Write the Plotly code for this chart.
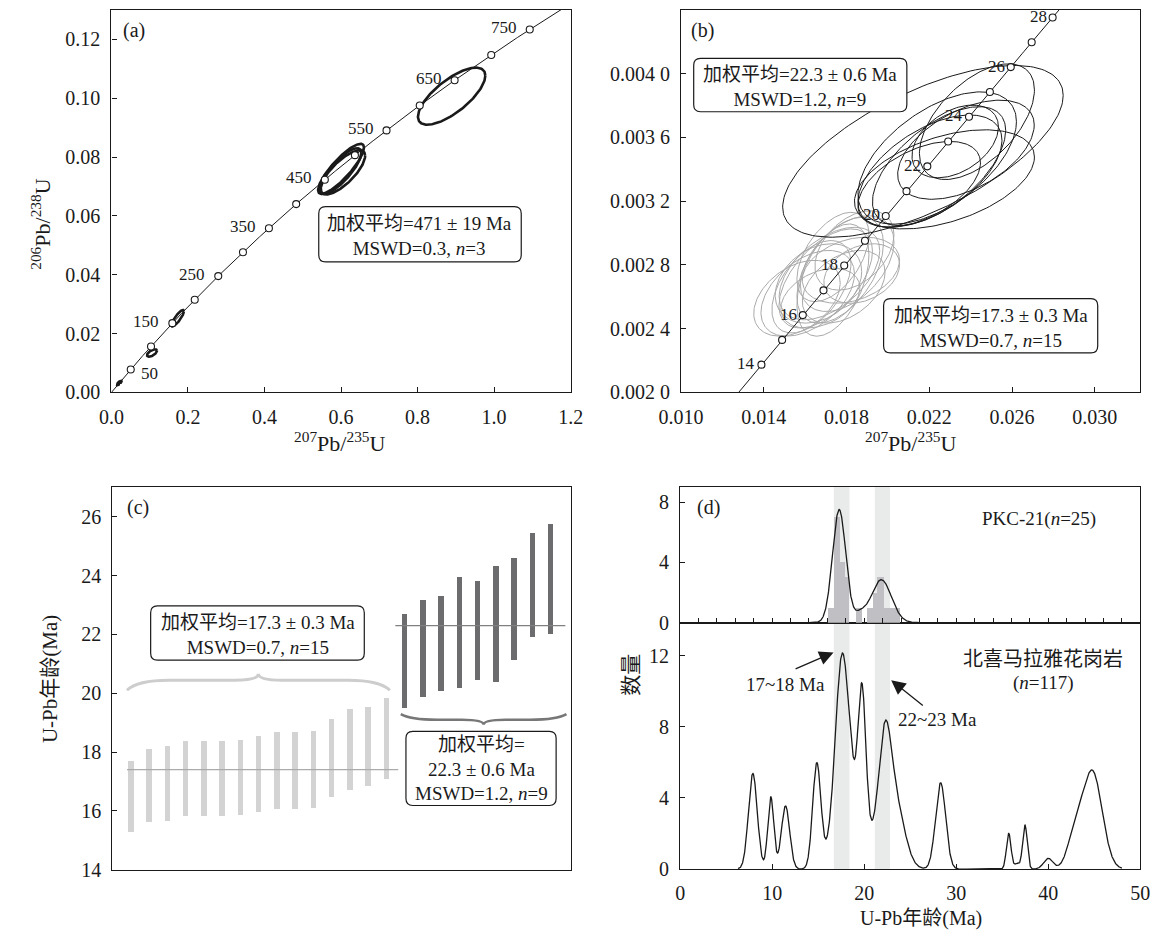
import numpy as np
import plotly.graph_objects as go

# page is 1172x949; the browser adds an 8 px body margin, so the figure is 16 px smaller
W, H = 1172, 949
M = 8
FW, FH = W - 2 * M, H - 2 * M
SERIF = "Liberation Serif, Times New Roman, Noto Sans CJK SC, serif"
INK = "#1a1a1a"

# ---------------- data ----------------
LAMBDA_238 = 1.55125e-10
LAMBDA_235 = 9.8485e-10

# (a) concordia marks and ellipses (half-widths, correlation)
a_marker_ages = [50, 100, 150, 200, 250, 300, 350, 400, 450, 500, 550, 600, 650, 700, 750]
a_label_ages = [50, 150, 250, 350, 450, 550, 650, 750]
a_ell_x = [0.106, 0.173, 0.600, 0.598, 0.605, 0.889]
a_ell_sx = [0.013, 0.0165, 0.060, 0.055, 0.058, 0.088]
a_ell_y = [0.0134, 0.0252, 0.0760, 0.0752, 0.0748, 0.1007]
a_ell_sy = [0.00125, 0.0028, 0.0085, 0.0078, 0.0075, 0.0097]
a_ell_rho = [0.6, 0.85, 0.85, 0.80, 0.75, 0.72]

# (b) concordia marks
b_marker_ages = [14, 15, 16, 17, 18, 19, 20, 21, 22, 23, 24, 25, 26, 27, 28]
b_label_ages = [14, 16, 18, 20, 22, 24, 26, 28]
# (b) ~22 Ma group (black)
b_old_x = [0.02169, 0.02430, 0.02377, 0.02247, 0.02203, 0.02273, 0.02151, 0.02325, 0.02238]
b_old_sx = [0.00678, 0.00278, 0.00330, 0.00322, 0.00348, 0.00435, 0.00296, 0.00209, 0.00383]
b_old_y = [0.003513, 0.003699, 0.003523, 0.003420, 0.003389, 0.003337, 0.003306, 0.003575, 0.003471]
b_old_sy = [0.000539, 0.000363, 0.000311, 0.000373, 0.000352, 0.000311, 0.000269, 0.000228, 0.000415]
b_old_rho = [0.65, 0.55, 0.50, 0.60, 0.55, 0.45, 0.50, 0.40, 0.55]
# (b) ~17 Ma group (grey)
b_young_x = [0.01560, 0.01612, 0.01630, 0.01664, 0.01699, 0.01717, 0.01734, 0.01769,
             0.01803, 0.01838, 0.01821, 0.01673, 0.01873, 0.01786, 0.01734]
b_young_sx = [0.00209, 0.00226, 0.00191, 0.00209, 0.00226, 0.00243, 0.00174, 0.00209,
              0.00226, 0.00191, 0.00235, 0.00191, 0.00183, 0.00200, 0.00174]
b_young_y = [0.002591, 0.002622, 0.002663, 0.002684, 0.002715, 0.002746, 0.002705, 0.002767,
             0.002808, 0.002891, 0.002767, 0.002591, 0.002746, 0.002663, 0.002850]
b_young_sy = [0.000238, 0.000269, 0.000290, 0.000249, 0.000311, 0.000290, 0.000352, 0.000332,
              0.000300, 0.000249, 0.000207, 0.000187, 0.000187, 0.000228, 0.000280]
b_young_rho = [0.40, 0.45, 0.50, 0.30, 0.55, 0.50, 0.45, 0.50, 0.45, 0.40, 0.30, 0.35, 0.30, 0.40, 0.50]

# (c) individual ages (error bar top / bottom, Ma)
c_young_top = [17.70, 18.09, 18.19, 18.37, 18.37, 18.37, 18.39, 18.53, 18.66, 18.68, 18.70, 19.10, 19.46, 19.52, 19.83]
c_young_bot = [15.26, 15.60, 15.66, 15.82, 15.82, 15.82, 15.84, 15.94, 16.04, 16.07, 16.09, 16.45, 16.69, 16.83, 17.09]
c_old_top = [22.68, 23.16, 23.29, 23.95, 23.79, 24.31, 24.60, 25.44, 25.73]
c_old_bot = [19.49, 19.87, 20.05, 20.18, 20.44, 20.38, 21.11, 21.89, 21.99]
c_young_mean = 17.4
c_old_mean = 22.3
c_young_brace = [20.10, 20.44, 20.66]   # end, body, tip
c_old_brace = [19.29, 19.10, 18.93]

# (d) highlight bands, histogram, probability curves
d_band_lo = [16.7, 21.15]
d_band_hi = [18.4, 22.8]
d_hist_lo = [16.10, 16.75, 17.40, 17.90, 19.15, 20.30, 21.00, 21.45, 22.15, 22.75, 23.30]
d_hist_hi = [16.75, 17.40, 17.90, 18.35, 19.75, 21.00, 21.45, 22.15, 22.75, 23.30, 23.90]
d_hist_n = [1, 7, 4, 3, 1, 1, 2, 3, 1, 1, 1]
d_top_mu = [17.28, 19.5, 21.85]
d_top_sig = [0.72, 0.6, 1.1]
d_top_amp = [7.5, 0.5, 2.85]
d_bot_mu = [7.9, 9.85, 11.45, 14.85, 16.1, 17.6, 18.7, 19.75, 20.8, 22.2, 23.4, 28.3, 35.7, 36.6, 37.46, 40.0, 42.9, 44.8]
d_bot_sig = [0.48, 0.33, 0.45, 0.45, 0.5, 0.75, 0.5, 0.45, 0.5, 0.7, 1.0, 0.55, 0.25, 0.3, 0.25, 0.5, 0.8, 1.05]
d_bot_amp = [5.37, 4.05, 3.55, 5.95, 0.45, 11.95, 2.0, 9.9, 1.1, 6.5, 3.5, 4.85, 2.0, 0.3, 2.48, 0.6, 1.8, 5.45]


# ---------------- helpers ----------------
def concordia(t_ma):
    t = np.asarray(t_ma, dtype=float) * 1e6
    return np.exp(LAMBDA_235 * t) - 1, np.exp(LAMBDA_238 * t) - 1


def ellipse(x, sx, y, sy, rho, n=181):
    th = np.linspace(0, 2 * np.pi, n)
    X = x + sx * np.cos(th)
    Y = y + sy * (rho * np.cos(th) + np.sqrt(1 - rho ** 2) * np.sin(th))
    return X, Y


def mixture(xs, mu, sig, amp):
    out = np.zeros_like(xs)
    for m, s, a in zip(mu, sig, amp):
        out += a * np.exp(-0.5 * ((xs - m) / s) ** 2)
    return out


def PX(px):
    return (px - M) / FW


def PY(py):
    return 1 - (py - M) / FH


def ann(px, py, text, size=19, **kw):
    d = dict(x=PX(px), y=PY(py), xref="paper", yref="paper", text=text, showarrow=False,
             font=dict(family=SERIF, size=size, color=INK), xanchor="center",
             yanchor="middle", align="center")
    d.update(kw)
    return d


def rbox(x0, y0, x1, y1, r=7):
    X0, Y0, X1, Y1 = PX(x0), PY(y0), PX(x1), PY(y1)
    rx, ry = r / FW, r / FH
    path = (f"M {X0+rx},{Y0} L {X1-rx},{Y0} Q {X1},{Y0} {X1},{Y0-ry} "
            f"L {X1},{Y1+ry} Q {X1},{Y1} {X1-rx},{Y1} L {X0+rx},{Y1} "
            f"Q {X0},{Y1} {X0},{Y1+ry} L {X0},{Y0-ry} Q {X0},{Y0} {X0+rx},{Y0} Z")
    return dict(type="path", path=path, xref="paper", yref="paper",
                line=dict(color=INK, width=1.2), fillcolor="white", layer="above")


def brace(x0, x1, levels, a, c, color, width):
    ye, yb, yt = levels
    xm = 0.5 * (x0 + x1)
    path = (f"M {x0},{ye} Q {x0 + 0.25*a},{yb} {x0 + a},{yb} L {xm - c},{yb} "
            f"Q {xm},{yb} {xm},{yt} Q {xm},{yb} {xm + c},{yb} L {x1 - a},{yb} "
            f"Q {x1 - 0.25*a},{yb} {x1},{ye}")
    return dict(type="path", path=path, xref="x3", yref="y3",
                line=dict(color=color, width=width), layer="above")


fig = go.Figure()

# ---------------- (a) ----------------
for i in range(len(a_ell_x)):
    X, Y = ellipse(a_ell_x[i], a_ell_sx[i], a_ell_y[i], a_ell_sy[i], a_ell_rho[i])
    fig.add_trace(go.Scatter(x=X, y=Y, mode="lines", line=dict(color=INK, width=2.6),
                             xaxis="x", yaxis="y", hoverinfo="skip"))
# the young zircons show as a small dark blob near the origin
for grp in [(b_old_x, b_old_sx, b_old_y, b_old_sy, b_old_rho),
            (b_young_x, b_young_sx, b_young_y, b_young_sy, b_young_rho)]:
    for i in range(len(grp[0])):
        X, Y = ellipse(grp[0][i], grp[1][i], grp[2][i], grp[3][i], grp[4][i])
        fig.add_trace(go.Scatter(x=X, y=Y, mode="lines", line=dict(color=INK, width=1.6),
                                 xaxis="x", yaxis="y", hoverinfo="skip"))
cx, cy = concordia(np.linspace(0, 820, 500))
fig.add_trace(go.Scatter(x=cx, y=cy, mode="lines", line=dict(color=INK, width=1),
                         xaxis="x", yaxis="y", hoverinfo="skip"))
mx, my = concordia(a_marker_ages)
fig.add_trace(go.Scatter(x=mx, y=my, mode="markers",
                         marker=dict(symbol="circle", size=7, color="white",
                                     line=dict(color=INK, width=1.1)),
                         xaxis="x", yaxis="y", hoverinfo="skip"))

# ---------------- (b) ----------------
for i in range(len(b_young_x)):
    X, Y = ellipse(b_young_x[i], b_young_sx[i], b_young_y[i], b_young_sy[i], b_young_rho[i])
    fig.add_trace(go.Scatter(x=X, y=Y, mode="lines", line=dict(color="#a9a9a9", width=1),
                             xaxis="x2", yaxis="y2", hoverinfo="skip"))
for i in range(len(b_old_x)):
    X, Y = ellipse(b_old_x[i], b_old_sx[i], b_old_y[i], b_old_sy[i], b_old_rho[i])
    fig.add_trace(go.Scatter(x=X, y=Y, mode="lines", line=dict(color=INK, width=1),
                             xaxis="x2", yaxis="y2", hoverinfo="skip"))
cx, cy = concordia(np.linspace(10, 32, 300))
fig.add_trace(go.Scatter(x=cx, y=cy, mode="lines", line=dict(color=INK, width=1),
                         xaxis="x2", yaxis="y2", hoverinfo="skip"))
mx, my = concordia(b_marker_ages)
fig.add_trace(go.Scatter(x=mx, y=my, mode="markers",
                         marker=dict(symbol="circle", size=7, color="white",
                                     line=dict(color=INK, width=1.1)),
                         xaxis="x2", yaxis="y2", hoverinfo="skip"))

# ---------------- (c) ----------------
idx_y = np.arange(1, len(c_young_top) + 1)
idx_o = np.arange(len(c_young_top) + 1, len(c_young_top) + len(c_old_top) + 1)
yt, yb = np.array(c_young_top), np.array(c_young_bot)
ot, ob = np.array(c_old_top), np.array(c_old_bot)
fig.add_trace(go.Bar(x=idx_y, y=yt - yb, base=yb, width=0.3,
                     marker=dict(color="#d3d3d3", line=dict(width=0)),
                     xaxis="x3", yaxis="y3", hoverinfo="skip"))
fig.add_trace(go.Bar(x=idx_o, y=ot - ob, base=ob, width=0.3,
                     marker=dict(color="#6c6c6f", line=dict(width=0)),
                     xaxis="x3", yaxis="y3", hoverinfo="skip"))
fig.add_trace(go.Scatter(x=[idx_y[0] - 0.24, idx_y[-1] + 0.63], y=[c_young_mean] * 2,
                         mode="lines", line=dict(color="#ababab", width=1.3),
                         xaxis="x3", yaxis="y3", hoverinfo="skip"))
fig.add_trace(go.Scatter(x=[idx_o[0] - 0.53, idx_o[-1] + 0.79], y=[c_old_mean] * 2,
                         mode="lines", line=dict(color="#808080", width=1.3),
                         xaxis="x3", yaxis="y3", hoverinfo="skip"))

# ---------------- (d) ----------------
lo, hi = np.array(d_hist_lo), np.array(d_hist_hi)
fig.add_trace(go.Bar(x=(lo + hi) / 2, y=d_hist_n, width=hi - lo,
                     marker=dict(color="#c0c0c4", line=dict(width=0)),
                     xaxis="x5", yaxis="y5", hoverinfo="skip"))
xt = np.linspace(14, 26.5, 500)
fig.add_trace(go.Scatter(x=xt, y=mixture(xt, d_top_mu, d_top_sig, d_top_amp), mode="lines",
                         line=dict(color=INK, width=1.3), xaxis="x5", yaxis="y5",
                         hoverinfo="skip"))
xb = np.linspace(6.3, 48.0, 1500)
fig.add_trace(go.Scatter(x=xb, y=mixture(xb, d_bot_mu, d_bot_sig, d_bot_amp), mode="lines",
                         line=dict(color=INK, width=1.3), xaxis="x4", yaxis="y4",
                         hoverinfo="skip"))


# ---------------- layout ----------------
def xdom(p0, p1):
    return [PX(p0), PX(p1)]


def ydom(top, bot):
    return [PY(bot), PY(top)]


ax = dict(showline=True, linecolor=INK, linewidth=1.2, mirror=True, ticks="inside",
          ticklen=5, tickcolor=INK, showgrid=False, zeroline=False,
          tickfont=dict(family=SERIF, size=20, color=INK), ticklabelstandoff=6)

shapes = []
for l, h in zip(d_band_lo, d_band_hi):
    shapes.append(dict(type="rect", xref="x4", yref="paper", x0=l, x1=h,
                       y0=PY(879.3), y1=PY(492.7), fillcolor="#e8ebe9",
                       line=dict(width=0), layer="below"))
shapes += [rbox(305, 209, 514, 265), rbox(692, 59, 912, 113), rbox(888, 302, 1109, 357),
           rbox(131.5, 613, 352, 668), rbox(395, 740, 550, 815)]
shapes.append(brace(idx_y[0] - 0.24, idx_y[-1] + 0.17, c_young_brace, 2.3, 1.3, "#cdcdcd", 3))
shapes.append(brace(idx_o[0] - 0.23, idx_o[-1] + 0.85, c_old_brace, 2.0, 1.2, "#777777", 2.5))

annotations = []
lx, ly = concordia(a_label_ages)
for age, x, y in zip(a_label_ages, lx, ly):
    if age == 50:
        annotations.append(dict(x=x, y=y, xref="x", yref="y", text=str(age), showarrow=False,
                                xanchor="left", yanchor="middle", xshift=8, yshift=-4,
                                font=dict(family=SERIF, size=17, color=INK)))
    else:
        annotations.append(dict(x=x, y=y, xref="x", yref="y", text=str(age), showarrow=False,
                                xanchor="right", yanchor="middle", xshift=-11, yshift=2,
                                font=dict(family=SERIF, size=17, color=INK)))
lx, ly = concordia(b_label_ages)
for age, x, y in zip(b_label_ages, lx, ly):
    annotations.append(dict(x=x, y=y, xref="x2", yref="y2", text=str(age), showarrow=False,
                            xanchor="right", yanchor="middle", xshift=-4, yshift=1,
                            font=dict(family=SERIF, size=17, color=INK)))

annotations += [
    ann(114, 31, "(a)", 20), ann(701, 31, "(b)", 20), ann(118, 513, "(c)", 20),
    ann(707, 513, "(d)", 20),
    ann(18, 226.7, "<sup>206</sup>Pb/<sup>238</sup>U", 22, textangle=-90),
    ann(327, 446.7, "<sup>207</sup>Pb/<sup>235</sup>U", 22),
    ann(916, 446.7, "<sup>207</sup>Pb/<sup>235</sup>U", 22),
    ann(27, 686.7, "U-Pb年龄(Ma)", 21, textangle=-90),
    ann(627, 683, "数量", 21, textangle=-90),
    ann(927, 929, "U-Pb年龄(Ma)", 20),
    ann(409.5, 238.5, "加权平均=471 ± 19 Ma<br>MSWD=0.3, <i>n</i>=3", 19),
    ann(802, 87.5, "加权平均=22.3 ± 0.6 Ma<br>MSWD=1.2, <i>n</i>=9", 19),
    ann(998.5, 331.5, "加权平均=17.3 ± 0.3 Ma<br>MSWD=0.7, <i>n</i>=15", 19),
    ann(241.8, 642.5, "加权平均=17.3 ± 0.3 Ma<br>MSWD=0.7, <i>n</i>=15", 19),
    ann(472.5, 778, "加权平均=<br>22.3 ± 0.6 Ma<br>MSWD=1.2, <i>n</i>=9", 19),
    ann(1048, 525, "PKC-21(<i>n</i>=25)", 19),
    ann(1053, 667, "北喜马拉雅花岗岩", 20),
    ann(1053, 691, "(<i>n</i>=117)", 19),
    ann(787, 693, "17~18 Ma", 19),
    ann(943.5, 728, "22~23 Ma", 19),
]
# arrows in (d)
for (hx, hy, tx, ty) in [(16.67, 12.18, 12.38, 11.22), (22.93, 10.61, 26.53, 9.13)]:
    annotations.append(dict(x=hx, y=hy, ax=tx, ay=ty, xref="x4", yref="y4", axref="x4",
                            ayref="y4", text="", showarrow=True, arrowhead=2, arrowsize=2.2,
                            arrowwidth=1.3, arrowcolor=INK, standoff=0))

fig.update_layout(
    width=FW, height=FH, autosize=False, margin=dict(l=0, r=0, t=0, b=0),
    paper_bgcolor="white", plot_bgcolor="rgba(0,0,0,0)", showlegend=False,
    barmode="overlay", bargap=0,
    font=dict(family=SERIF, color=INK),
    xaxis=dict(ax, domain=xdom(91, 565), range=[0, 1.2], tickvals=[0, 0.2, 0.4, 0.6, 0.8, 1.0, 1.2],
               tickformat=".1f", anchor="y"),
    yaxis=dict(ax, domain=ydom(10, 397), range=[0, 0.13],
               tickvals=[0, 0.02, 0.04, 0.06, 0.08, 0.10, 0.12], tickformat=".2f", anchor="x"),
    xaxis2=dict(ax, domain=xdom(679, 1153), range=[0.010, 0.0322],
                tickvals=[0.010, 0.014, 0.018, 0.022, 0.026, 0.030], tickformat=".3f", anchor="y2"),
    yaxis2=dict(ax, domain=ydom(10, 397), range=[0.0020, 0.0044],
                tickvals=[0.0020, 0.0024, 0.0028, 0.0032, 0.0036, 0.0040, 0.0044],
                ticktext=["0.002 0", "0.002 4", "0.002 8", "0.003 2", "0.003 6", "0.004 0", "0.004 4"],
                anchor="x2"),
    xaxis3=dict(ax, domain=xdom(92, 565), range=[-0.04, 25.08], ticks="",
                showticklabels=False, anchor="y3"),
    yaxis3=dict(ax, domain=ydom(493, 880), range=[14, 27], tickvals=[14, 16, 18, 20, 22, 24, 26],
                anchor="x3"),
    xaxis4=dict(ax, domain=xdom(678, 1153), range=[0, 50], tickvals=[0, 10, 20, 30, 40, 50],
                anchor="y4"),
    yaxis4=dict(ax, domain=ydom(630, 879.3), range=[0, 13.85], tickvals=[0, 4, 8, 12], anchor="x4"),
    xaxis5=dict(ax, domain=xdom(678, 1153), range=[0, 50], tick0=0, dtick=2,
                showticklabels=False, anchor="y5"),
    yaxis5=dict(ax, domain=ydom(492.7, 630), range=[0, 9], tickvals=[0, 4, 8], anchor="x5"),
    shapes=shapes, annotations=annotations,
)

fig.write_html("out.html")
